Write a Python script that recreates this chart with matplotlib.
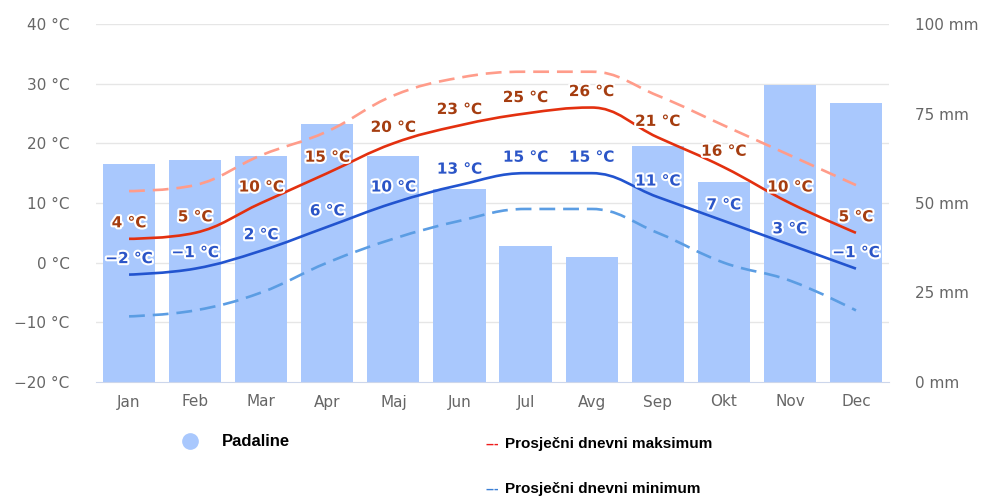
import numpy as np
import matplotlib
matplotlib.use("Agg")
import matplotlib.pyplot as plt
from matplotlib.path import Path
from matplotlib.patches import PathPatch
from matplotlib.lines import Line2D
from matplotlib import transforms
import matplotlib.patheffects as pe

months = ["Jan", "Feb", "Mar", "Apr", "Maj", "Jun", "Jul", "Avg", "Sep", "Okt", "Nov", "Dec"]
precip_mm = [61, 62, 63, 72, 63, 54, 38, 35, 66, 56, 83, 78]
avg_max = [4, 5, 10, 15, 20, 23, 25, 26, 21, 16, 10, 5]
avg_min = [-2, -1, 2, 6, 10, 13, 15, 15, 11, 7, 3, -1]
high_max = [12, 13, 18, 22, 28, 31, 32, 32, 28, 23, 18, 13]
low_min = [-9, -8, -5, 0, 4, 7, 9, 9, 5, 0, -3, -8]

temp_ticks = [-20, -10, 0, 10, 20, 30, 40]
mm_ticks = [0, 25, 50, 75, 100]


def spline_path(xs, ys, smoothing=1.5):
    # cubic bezier control points, same idea as highcharts "spline" series
    denom = smoothing + 1
    n = len(xs)
    lc = [(xs[i], ys[i]) for i in range(n)]
    rc = [(xs[i], ys[i]) for i in range(n)]
    for i in range(1, n - 1):
        x, y = xs[i], ys[i]
        lx, ly = xs[i - 1], ys[i - 1]
        nx, ny = xs[i + 1], ys[i + 1]
        lcx = (smoothing * x + lx) / denom
        lcy = (smoothing * y + ly) / denom
        rcx = (smoothing * x + nx) / denom
        rcy = (smoothing * y + ny) / denom
        corr = (rcy - lcy) * (rcx - x) / (rcx - lcx) + y - rcy
        lcy += corr
        rcy += corr
        if lcy > ly and lcy > y:
            lcy = max(ly, y)
            rcy = 2 * y - lcy
        elif lcy < ly and lcy < y:
            lcy = min(ly, y)
            rcy = 2 * y - lcy
        if rcy > ny and rcy > y:
            rcy = max(ny, y)
            lcy = 2 * y - rcy
        elif rcy < ny and rcy < y:
            rcy = min(ny, y)
            lcy = 2 * y - rcy
        lc[i] = (lcx, lcy)
        rc[i] = (rcx, rcy)
    verts = [(xs[0], ys[0])]
    codes = [Path.MOVETO]
    for i in range(1, n):
        verts += [rc[i - 1], lc[i], (xs[i], ys[i])]
        codes += [Path.CURVE4] * 3
    return Path(verts, codes)


fig, ax = plt.subplots(figsize=(9.88, 4.97), dpi=100)
fig.subplots_adjust(left=96 / 988, right=889 / 988, bottom=1 - 382 / 497, top=1 - 24 / 497)
ax2 = ax.twinx()
ax.set_zorder(ax2.get_zorder() + 1)
ax.patch.set_visible(False)

x = np.arange(len(months))

# precipitation bars (right axis)
ax2.bar(x, precip_mm, width=0.79, color="#a9c8fd", zorder=2)
ax2.set_ylim(0, 100)

# grid lines at the temperature ticks, kept under the bars
grid_tr = transforms.blended_transform_factory(ax2.transAxes, ax.transData)
for t in temp_ticks[1:]:
    ax2.plot([0, 1], [t, t], color="#e6e6e6", lw=1, transform=grid_tr, zorder=0)

# temperature lines
ax.set_ylim(-20, 40)
ax.set_xlim(-0.5, len(months) - 0.5)
series = [
    (high_max, "#ff9c8a", (0, (6, 3))),
    (low_min, "#5b9de3", (0, (6, 3))),
    (avg_max, "#e3300f", "-"),
    (avg_min, "#2254cf", "-"),
]
for vals, col, ls in series:
    ax.add_patch(PathPatch(spline_path(x, vals), facecolor="none", edgecolor=col,
                           lw=1.9, linestyle=ls, capstyle="butt", zorder=3))

# data labels
def fmt(v):
    return f"{v} °C".replace("-", "\u2212")

for vals, col in [(avg_max, "#a53d10"), (avg_min, "#2b55c7")]:
    for xi, v in zip(x, vals):
        ax.annotate(fmt(v), (xi, v), xytext=(0, 11.5), textcoords="offset points",
                    ha="center", va="center", fontsize=11, fontweight="bold", color=col,
                    zorder=4, path_effects=[pe.withStroke(linewidth=3, foreground="white")])

# axes styling
ax.set_xticks(x)
ax.set_xticklabels(months)
ax.set_yticks(temp_ticks)
ax.set_yticklabels([fmt(t) for t in temp_ticks])
ax2.set_yticks(mm_ticks)
ax2.set_yticklabels([f"{m} mm" for m in mm_ticks])
ax.tick_params(axis="x", length=0, pad=9, labelsize=11, labelcolor="#666666")
ax.tick_params(axis="y", length=0, pad=19, labelsize=11, labelcolor="#666666")
ax2.tick_params(axis="y", length=0, pad=19, labelsize=11, labelcolor="#666666")
for a in (ax, ax2):
    for s in a.spines.values():
        s.set_visible(False)
ax2.spines["bottom"].set_visible(True)
ax2.spines["bottom"].set_color("#ccd6eb")
ax2.spines["bottom"].set_zorder(3)

# legend below the chart
fig.add_artist(Line2D([190 / 988], [1 - 441 / 497], marker="o", markersize=11,
                      color="#a9c8fd", transform=fig.transFigure))
fig.text(222 / 988, 1 - 441 / 497, "Padaline", ha="left", va="center",
         fontsize=12, fontweight="bold", family="Liberation Sans", color="black")
for yy, col, lab in [(444, "#ee1c1c", "Prosječni dnevni maksimum"),
                     (489, "#3a7fd5", "Prosječni dnevni minimum")]:
    fig.text(485 / 988, 1 - yy / 497, "---", ha="left", va="center",
             fontsize=10, fontweight="bold", family="Liberation Sans", color=col)
    fig.text(505 / 988, 1 - yy / 497, lab, ha="left", va="center",
             fontsize=11, fontweight="bold", family="Liberation Sans", color="black")

fig.savefig("out.png", dpi=100)
